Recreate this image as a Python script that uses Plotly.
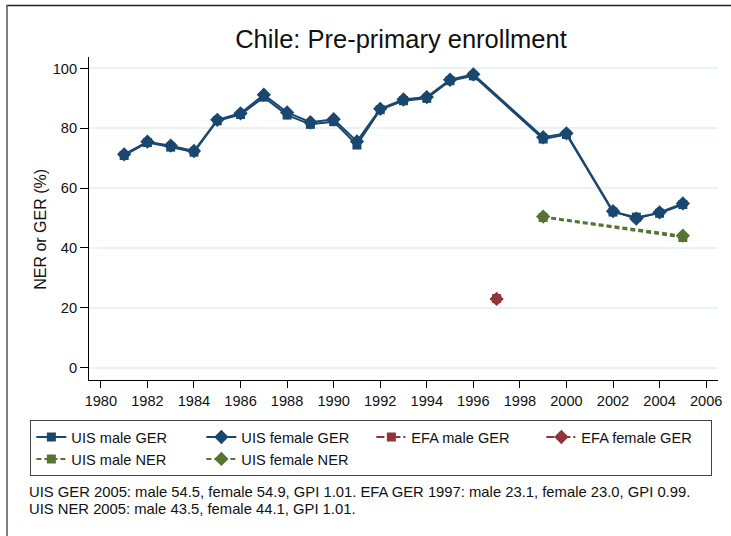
import plotly.graph_objects as go

# ---- data ----
years = [1981, 1982, 1983, 1984, 1985, 1986, 1987, 1988, 1989, 1990, 1991,
         1992, 1993, 1994, 1995, 1996, 1999, 2000, 2002, 2003, 2004, 2005]
uis_male_ger = [70.9, 75.2, 73.7, 72.0, 82.5, 84.6, 90.4, 84.4, 81.3, 82.2, 74.4,
                86.2, 89.2, 90.0, 95.9, 97.5, 76.4, 77.9, 52.0, 50.3, 51.6, 54.5]
uis_female_ger = [71.3, 75.5, 74.2, 72.4, 82.8, 85.0, 91.2, 85.3, 82.0, 83.0, 75.6,
                  86.5, 89.6, 90.4, 96.2, 98.0, 77.0, 78.3, 52.3, 49.8, 51.9, 54.9]
efa_years = [1997]
efa_male_ger = [23.1]
efa_female_ger = [23.0]
ner_years = [1999, 2005]
uis_male_ner = [50.2, 43.5]
uis_female_ner = [50.5, 44.1]

x_ticks = list(range(1980, 2007, 2))
y_ticks = [0, 20, 40, 60, 80, 100]

title_text = "Chile: Pre-primary enrollment"
y_title = "NER or GER (%)"
note1 = "UIS GER 2005: male 54.5, female 54.9, GPI 1.01. EFA GER 1997: male 23.1, female 23.0, GPI 0.99."
note2 = "UIS NER 2005: male 43.5, female 44.1, GPI 1.01."

NAVY = "#1a476f"
MAROON = "#90353b"
GREEN = "#55752f"
FONT = "Liberation Sans, Arial, sans-serif"

W, H = 731, 536
L, R, T, B = 89, 9, 57, 156
PW = W - L - R
PH = H - T - B


def px(xp):
    return (xp - L) / PW


def py(yp):
    return (H - B - yp) / PH


fig = go.Figure()

series = [
    ("UIS male GER", years, uis_male_ger, NAVY, "square", 9, "solid"),
    ("UIS female GER", years, uis_female_ger, NAVY, "diamond", 11, "solid"),
    ("EFA male GER", efa_years, efa_male_ger, MAROON, "square", 9, "8px,3px,2px,3px"),
    ("EFA female GER", efa_years, efa_female_ger, MAROON, "diamond", 11, "8px,3px,2px,3px"),
    ("UIS male NER", ner_years, uis_male_ner, GREEN, "square", 9, "5px,3px"),
    ("UIS female NER", ner_years, uis_female_ner, GREEN, "diamond", 11, "5px,3px"),
]
for name, xs, ys, col, sym, size, dash in series:
    fig.add_trace(go.Scatter(
        x=xs, y=ys, name=name, mode="lines+markers",
        line=dict(color=col, width=2, dash=dash),
        marker=dict(symbol=sym, size=size, color=col),
    ))

fig.update_layout(
    width=W, height=H,
    margin=dict(l=L, r=R, t=T, b=B),
    paper_bgcolor="white", plot_bgcolor="white",
    font=dict(family=FONT, color="#111", size=14),
    title=dict(text=title_text, x=px(403), xref="paper", xanchor="center",
               y=1 - 39.5 / H, yref="container", yanchor="middle",
               font=dict(size=25.5, color="#111", family=FONT)),
    xaxis=dict(range=[1979.49, 2006.51], tickvals=x_ticks, showgrid=False,
               zeroline=False, showline=True, linecolor="black", linewidth=1,
               ticks="outside", ticklen=7, tickcolor="black", tickwidth=1,
               tickfont=dict(size=14.6, color="#111")),
    yaxis=dict(range=[-4.1, 103.8], tickvals=y_ticks, showgrid=True,
               gridcolor="#eaf2f3", gridwidth=1.5, zeroline=False,
               showline=True, linecolor="black", linewidth=1,
               ticks="outside", ticklen=8, tickcolor="black", tickwidth=1,
               tickfont=dict(size=14.6, color="#111")),
    legend=dict(orientation="h", xref="paper", yref="paper",
                x=px(30), y=py(420), xanchor="left", yanchor="top",
                bordercolor="#444", borderwidth=1, bgcolor="white",
                font=dict(size=14.6, color="#111", family=FONT),
                entrywidth=125, traceorder="normal"),
    showlegend=True,
)

fig.add_annotation(text=y_title, xref="paper", yref="paper",
                   x=px(40), y=py(229.5), xanchor="center", yanchor="middle",
                   textangle=-90, showarrow=False,
                   font=dict(size=16, color="#111", family=FONT))
fig.add_annotation(text=note1, xref="paper", yref="paper",
                   x=px(27), y=py(492), xanchor="left", yanchor="middle",
                   showarrow=False, font=dict(size=14.8, color="#111", family=FONT))
fig.add_annotation(text=note2, xref="paper", yref="paper",
                   x=px(27), y=py(509), xanchor="left", yanchor="middle",
                   showarrow=False, font=dict(size=14.8, color="#111", family=FONT))

# outer frame (top and left edges visible)
fig.add_shape(type="line", xref="paper", yref="paper",
              x0=px(6), x1=px(760), y0=py(5.5), y1=py(5.5),
              line=dict(color="#222", width=1.5))
fig.add_shape(type="line", xref="paper", yref="paper",
              x0=px(6.5), x1=px(6.5), y0=py(5), y1=py(560),
              line=dict(color="#555", width=1.5))

fig.write_html("out.html",
               config={"displayModeBar": False},
               post_script="document.body.style.margin='0px';"
                           "document.body.style.overflow='hidden';")
